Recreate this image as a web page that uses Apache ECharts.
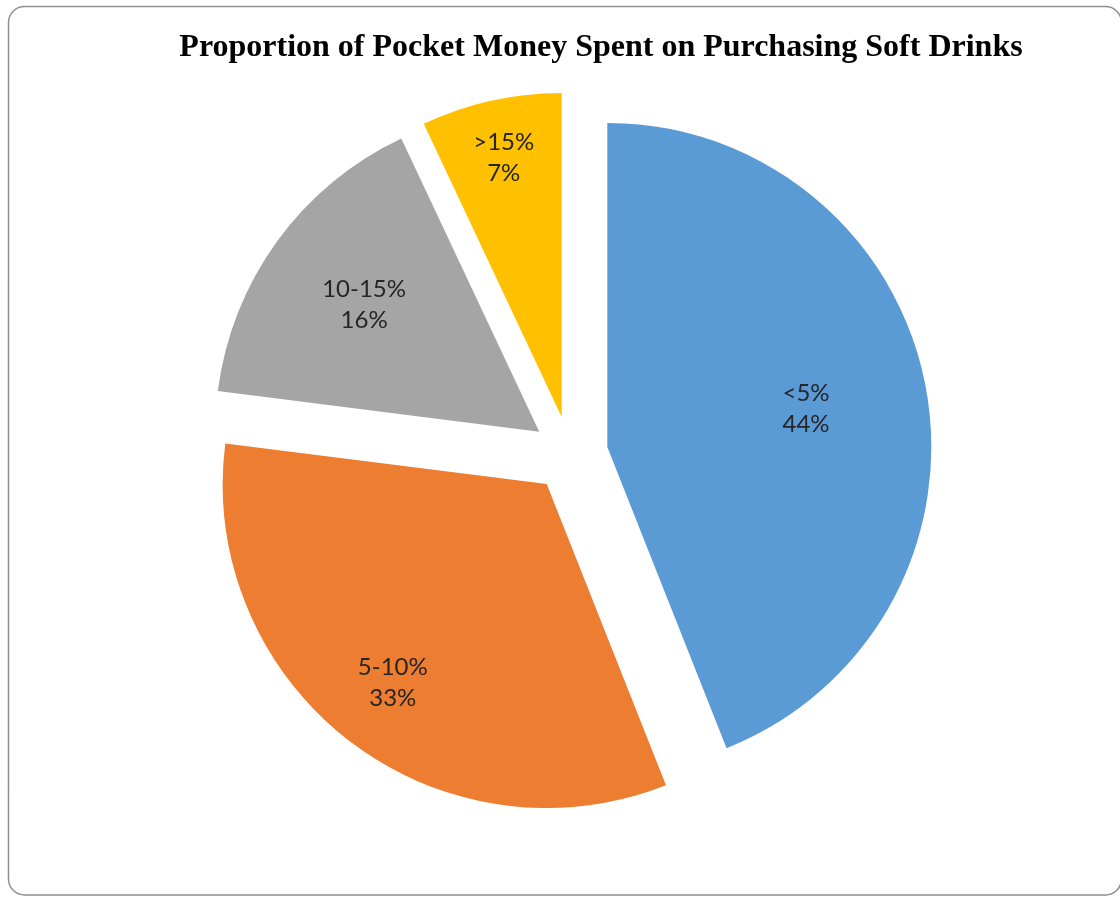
<!DOCTYPE html>
<html>
<head>
<meta charset="utf-8">
<script src="https://cdn.jsdelivr.net/npm/echarts@6/dist/echarts.min.js"></script>
<style>
  html, body { margin: 0; padding: 0; background: #ffffff; overflow: hidden; }
  #chart { width: 1120px; height: 897px; }
</style>
</head>
<body>
<div id="chart"></div>
<script>
// Share of pocket money spent on soft drinks, by band
const categories = ['<5%', '5-10%', '10-15%', '>15%'];
const shares = [44, 33, 16, 7];
const sliceColors = ['#5B9BD5', '#ED7D31', '#A5A5A5', '#FFC000'];

// Pie geometry
const PIE_CENTER = [570, 454];
const PIE_RADIUS = 324;
const EXPLODE = 38;
// how far out along its bisector each label sits (fraction of the radius)
const labelDepth = [0.615, 0.766, 0.659, 0.811];

// mid angle of each slice, measured clockwise from 12 o'clock
const total = shares.reduce((a, b) => a + b, 0);
const midAngles = [];
let acc = 0;
shares.forEach(v => {
  midAngles.push((acc + v / 2) / total * 2 * Math.PI);
  acc += v;
});

const chart = echarts.init(document.getElementById('chart'), null, { renderer: 'canvas' });

chart.setOption({
  backgroundColor: '#ffffff',
  animation: false,
  title: {
    text: 'Proportion of Pocket Money Spent on Purchasing Soft Drinks',
    left: 596,
    textAlign: 'center',
    top: 27,
    textStyle: {
      fontFamily: '"Liberation Serif", "Times New Roman", serif',
      fontWeight: 'bold',
      fontSize: 32,
      color: '#000000'
    }
  },
  graphic: [{
    type: 'rect',
    silent: true,
    z: -10,
    shape: { x: 8.5, y: 6.5, width: 1113, height: 888.5, r: 16 },
    style: { fill: 'none', stroke: '#8f8f8f', lineWidth: 1.5 }
  }],
  series: [{
    type: 'pie',
    center: PIE_CENTER,
    radius: [0, PIE_RADIUS],
    startAngle: 90,
    clockwise: true,
    silent: true,
    selectedMode: 'multiple',
    selectedOffset: EXPLODE,
    avoidLabelOverlap: false,
    emphasis: { disabled: true },
    label: {
      show: true,
      position: 'inside',
      formatter: '{b}\n{c}%',
      fontFamily: 'Lato, "Open Sans", sans-serif',
      fontSize: 24,
      lineHeight: 31,
      color: '#262626',
      align: 'center'
    },
    labelLine: { show: false },
    labelLayout: function (params) {
      const i = params.dataIndex;
      const shift = (labelDepth[i] - 0.5) * PIE_RADIUS;
      return {
        dx: Math.sin(midAngles[i]) * shift,
        dy: -Math.cos(midAngles[i]) * shift
      };
    },
    itemStyle: { borderWidth: 0 },
    data: categories.map((name, i) => ({
      name: name,
      value: shares[i],
      selected: true,
      itemStyle: { color: sliceColors[i] }
    }))
  }]
});
</script>
</body>
</html>
